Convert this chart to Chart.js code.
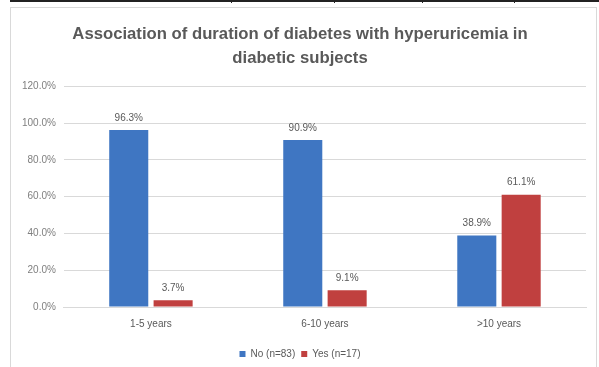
<!DOCTYPE html>
<html>
<head>
<meta charset="utf-8">
<script src="https://cdn.jsdelivr.net/npm/chart.js@4"></script>
<style>
  html, body { margin: 0; padding: 0; background: #fff; }
  body { width: 599px; height: 367px; position: relative; overflow: hidden; }
  .rule { position: absolute; left: 10px; top: 0; width: 589px; height: 2px; background: #222; }
  .tick { position: absolute; top: 0; width: 1px; height: 3px; background: #222; }
  .frame { position: absolute; left: 10px; top: 7px; width: 587px; height: 370px;
           border: 1px solid #d9d9d9; box-sizing: border-box; }
  #wrap { position: absolute; left: 11px; top: 8px; width: 585px; height: 361px; }
</style>
</head>
<body>
<div class="rule"></div>
<div class="tick" style="left:231px"></div>
<div class="tick" style="left:334px"></div>
<div class="tick" style="left:422px"></div>
<div class="tick" style="left:514px"></div>
<div class="frame"></div>
<div id="wrap"><canvas id="c"></canvas></div>
<script>
const categories = ['1-5 years', '6-10 years', '>10 years'];
const noValues = [96.3, 90.9, 38.9];
const yesValues = [3.7, 9.1, 61.1];
const seriesNames = ['No (n=83)', 'Yes (n=17)'];
const titleLines = ['Association of duration of diabetes with hyperuricemia in', 'diabetic subjects'];

const FONT = "'Liberation Sans', Arial, sans-serif";

// Percentage labels above each bar
const valueLabels = {
  id: 'valueLabels',
  afterDatasetsDraw(chart) {
    const ctx = chart.ctx;
    ctx.save();
    ctx.font = '10px ' + FONT;
    ctx.fillStyle = '#595959';
    ctx.textAlign = 'center';
    ctx.textBaseline = 'bottom';
    chart.data.datasets.forEach((ds, i) => {
      chart.getDatasetMeta(i).data.forEach((bar, j) => {
        ctx.fillText(ds.data[j].toFixed(1) + '%', bar.x, bar.y - 7);
      });
    });
    ctx.restore();
  }
};

new Chart(document.getElementById('c'), {
  type: 'bar',
  data: {
    labels: categories,
    datasets: [
      { label: seriesNames[0], data: noValues, backgroundColor: '#3F76C2' },
      { label: seriesNames[1], data: yesValues, backgroundColor: '#C0403F' }
    ]
  },
  options: {
    responsive: true,
    maintainAspectRatio: false,
    animation: false,
    datasets: { bar: { categoryPercentage: 0.51, barPercentage: 0.88 } },
    layout: { padding: { left: 3, right: 10, top: 6, bottom: 0 } },
    plugins: {
      title: {
        display: true,
        text: titleLines,
        color: '#595959',
        font: { family: FONT, size: 16.7, weight: 'bold', lineHeight: 1.45 },
        padding: { top: 8, bottom: 16 }
      },
      legend: {
        position: 'bottom',
        labels: {
          color: '#595959',
          font: { family: FONT, size: 10 },
          boxWidth: 6, boxHeight: 6, padding: 6
        }
      },
      tooltip: { enabled: false }
    },
    scales: {
      x: {
        grid: { display: false },
        border: { color: '#d9d9d9' },
        ticks: { color: '#595959', font: { family: FONT, size: 10 }, padding: 3 },
        // extra room between category labels and the legend
        afterFit: scale => { scale.height += 10; }
      },
      y: {
        min: 0, max: 120,
        ticks: {
          stepSize: 20,
          color: '#7f7f7f',
          font: { family: FONT, size: 10 },
          padding: 8,
          callback: v => v.toFixed(1) + '%'
        },
        grid: { color: '#d9d9d9', drawTicks: false },
        border: { display: false }
      }
    }
  },
  plugins: [valueLabels]
});
</script>
</body>
</html>
